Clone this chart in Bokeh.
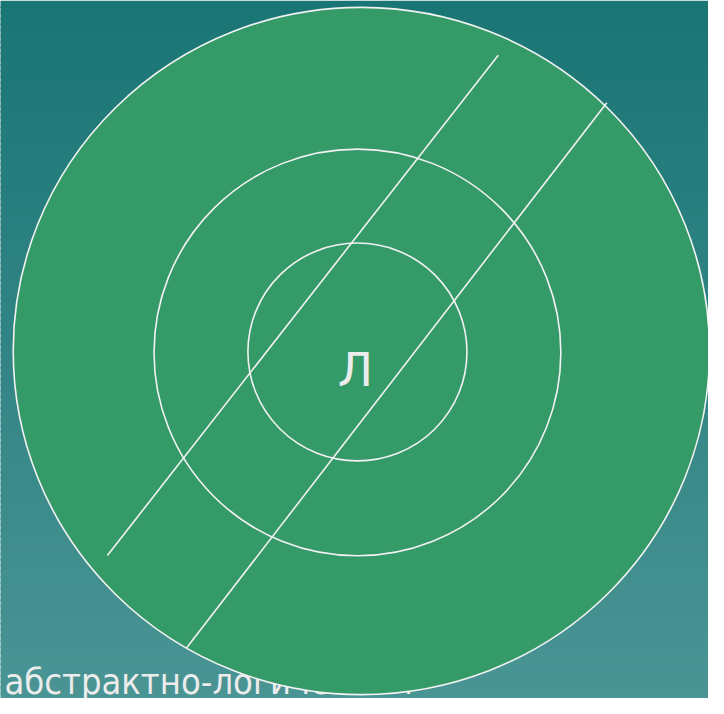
import numpy as np
from bokeh.plotting import figure
from bokeh.models import Range1d
from bokeh.core.properties import value
from bokeh.embed import file_html
from bokeh.resources import INLINE

# ---- diagram data (reference pixel space 724x714, y grows downward) ----
ring_x = [369, 365, 365]
ring_y = [358.5, 360, 359.5]
ring_w = [712, 416, 224]
ring_h = [703, 416, 223]

line_x0 = [109.3, 190.0]
line_y0 = [567.7, 662.7]
line_x1 = [509.0, 620.0]
line_y1 = [56.0, 104.5]

center_label = ["Л"]
center_label_x = [363]
center_label_y = [377]

caption = ["абстрактно-логическим"]
caption_x = [4]
caption_y = [697]

W, H = 724, 714
bg_top = np.array([26, 117, 117])
bg_bottom = np.array([74, 148, 148])

p = figure(width=708, height=698, output_backend="svg", toolbar_location=None,
           x_range=Range1d(0, W), y_range=Range1d(H, 0),
           min_border=0, outline_line_color=None)
p.axis.visible = False
p.grid.visible = False
p.background_fill_color = None
p.border_fill_color = None

# background gradient bands (decoration)
n = 120
edges = np.linspace(0, H, n + 1)
cols = []
for i in range(n):
    t = i / (n - 1)
    c = (bg_top * (1 - t) + bg_bottom * t).round().astype(int)
    cols.append("#%02x%02x%02x" % tuple(c))
p.quad(left=-2, right=W + 2, top=edges[:-1], bottom=edges[1:] + 1.5, fill_color=cols,
       line_color=None)

# caption text behind the circle
p.text(x=caption_x, y=caption_y, text=caption, text_font=value("DejaVu Sans Condensed"),
       text_font_size="36px", text_color="#ececec", text_align="left",
       text_baseline="alphabetic")

# big filled circle
p.ellipse(x=ring_x[:1], y=ring_y[:1], width=ring_w[:1], height=ring_h[:1],
          fill_color="#349a67", line_color="#f2f2f2", line_width=1.6)
# inner rings
p.ellipse(x=ring_x[1:], y=ring_y[1:], width=ring_w[1:], height=ring_h[1:],
          fill_color=None, line_color="#f2f2f2", line_width=1.6)

p.segment(x0=line_x0, y0=line_y0, x1=line_x1, y1=line_y1,
          line_color="#f2f2f2", line_width=1.6)

p.text(x=center_label_x, y=center_label_y, text=center_label, text_font=value("DejaVu Sans"),
       text_font_size="47px", text_color="#ececec", text_align="center",
       text_baseline="alphabetic")

open("out.html", "w").write(file_html(p, INLINE))
